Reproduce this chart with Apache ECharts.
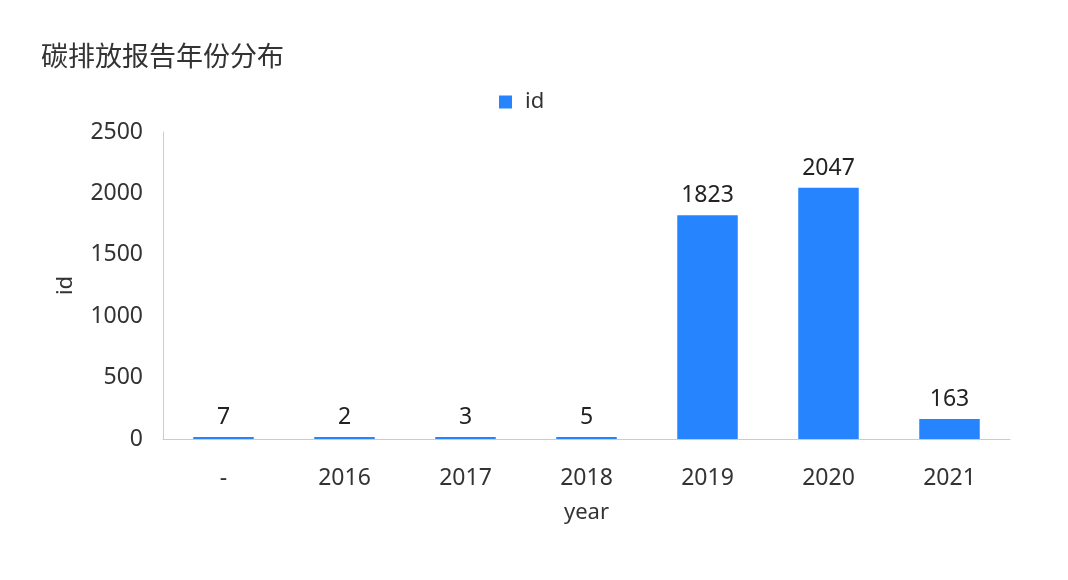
<!DOCTYPE html>
<html><head><meta charset="utf-8">
<script src="https://cdn.jsdelivr.net/npm/echarts@6/dist/echarts.min.js"></script>
<style>html,body{margin:0;padding:0;background:#fff}#c{width:1068px;height:580px}</style>
</head><body><div id="c"></div>
<script>
const categories = ['-', '2016', '2017', '2018', '2019', '2020', '2021'];
const idValues = [7, 2, 3, 5, 1823, 2047, 163];
const yTicks = { min: 0, max: 2500, interval: 500 };

const chart = echarts.init(document.getElementById('c'));
const font = '"Noto Sans", "Noto Sans CJK SC", sans-serif';
chart.setOption({
  textStyle: { fontFamily: font },
  title: { text: '碳排放报告年份分布', left: 36, top: 40,
    textStyle: { fontSize: 27, fontWeight: 'normal', color: '#333', fontFamily: font } },
  legend: { data: ['id'], top: 86, left: 494, icon: 'rect', itemWidth: 13, itemHeight: 13, itemGap: 10,
    textStyle: { fontSize: 22, color: '#333', fontFamily: font, padding: [0, 0, 0, 8] } },
  grid: { left: 163, right: 58, top: 132, bottom: 141 },
  xAxis: { type: 'category', data: categories, name: 'year', nameLocation: 'middle', nameGap: 63,
    nameTextStyle: { fontSize: 22, color: '#333', fontFamily: font },
    axisLine: { lineStyle: { color: '#ccc' } }, axisTick: { show: false },
    axisLabel: { fontSize: 23, color: '#333', margin: 28, fontFamily: font } },
  yAxis: { type: 'value', min: yTicks.min, max: yTicks.max, interval: yTicks.interval,
    name: 'id', nameLocation: 'middle', nameGap: 86,
    nameTextStyle: { fontSize: 22, color: '#333', fontFamily: font },
    axisLine: { show: true, lineStyle: { color: '#ccc' } }, axisTick: { show: false },
    splitLine: { show: false },
    axisLabel: { fontSize: 23, color: '#333', margin: 20, fontFamily: font,
      formatter: v => String(v) } },
  series: [{ name: 'id', type: 'bar', data: idValues, barWidth: '50%', barMinHeight: 2,
    itemStyle: { color: '#2684FF' },
    label: { show: true, position: 'top', fontSize: 23, color: '#222', distance: 8, fontFamily: font } }]
});
</script></body></html>
